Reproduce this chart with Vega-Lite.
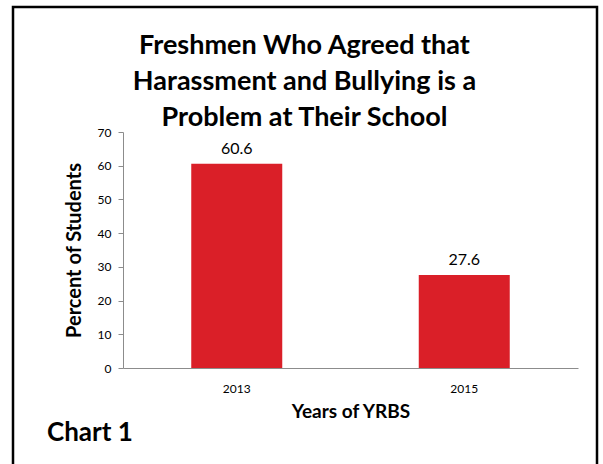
{
  "$schema": "https://vega.github.io/schema/vega-lite/v6.json",
  "width": 455,
  "height": 236,
  "autosize": {"type": "none"},
  "padding": {"left": 123, "top": 132, "right": 25, "bottom": 96},
  "background": "white",
  "title": {
    "text": ["Freshmen Who Agreed that", "Harassment and Bullying is a", "Problem at Their School"],
    "font": "Lato",
    "fontSize": 27,
    "fontWeight": "bold",
    "color": "#000",
    "lineHeight": 36,
    "anchor": "middle",
    "dx": -46,
    "dy": 130,
    "offset": 4
  },
  "config": {
    "view": {"stroke": null},
    "font": "Lato"
  },
  "data": {
    "values": [
      {"year": "2013", "percent": 60.6},
      {"year": "2015", "percent": 27.6}
    ]
  },
  "encoding": {
    "x": {
      "field": "year",
      "type": "nominal",
      "scale": {"paddingInner": 0.6, "paddingOuter": 0.3},
      "axis": {
        "title": "Years of YRBS",
        "titleFont": "Lato",
        "titleFontSize": 19,
        "titleFontWeight": "bold",
        "titleColor": "#000",
        "titlePadding": 8,
        "labelAngle": 0,
        "labelFont": "Lato",
        "labelFontSize": 12,
        "labelColor": "#000",
        "labelPadding": 15,
        "ticks": false,
        "domainColor": "#8c8c8c",
        "domainWidth": 1
      }
    },
    "y": {
      "field": "percent",
      "type": "quantitative",
      "scale": {"domain": [0, 70]},
      "axis": {
        "title": "Percent of Students",
        "titleFont": "Lato",
        "titleFontSize": 20,
        "titleFontWeight": "bold",
        "titleColor": "#000",
        "titlePadding": 13,
        "values": [0, 10, 20, 30, 40, 50, 60, 70],
        "labelFont": "Lato",
        "labelFontSize": 12,
        "labelColor": "#000",
        "labelPadding": 7,
        "labelOverlap": false,
        "tickSize": 5,
        "tickColor": "#8c8c8c",
        "domainColor": "#8c8c8c",
        "grid": false
      }
    }
  },
  "layer": [
    {
      "mark": {"type": "bar", "color": "#DA1F28"}
    },
    {
      "mark": {"type": "text", "font": "Lato", "fontSize": 16, "baseline": "alphabetic", "dy": -10, "color": "#000"},
      "encoding": {
        "text": {"field": "percent", "type": "quantitative", "format": ".1f"}
      }
    },
    {
      "data": {"values": [{"label": "Chart 1"}]},
      "mark": {"type": "text", "font": "Lato", "fontSize": 26, "fontWeight": "bold", "align": "left", "baseline": "alphabetic", "color": "#000", "x": -76, "y": 309},
      "encoding": {"text": {"field": "label"}, "x": null, "y": null}
    },
    {
      "data": {"values": [{"frame": 1}]},
      "mark": {"type": "rect", "fill": null, "stroke": "#000", "strokeWidth": 2.5, "x": -110, "x2": 474, "y": -125, "y2": 345},
      "encoding": {"x": null, "y": null}
    }
  ]
}
